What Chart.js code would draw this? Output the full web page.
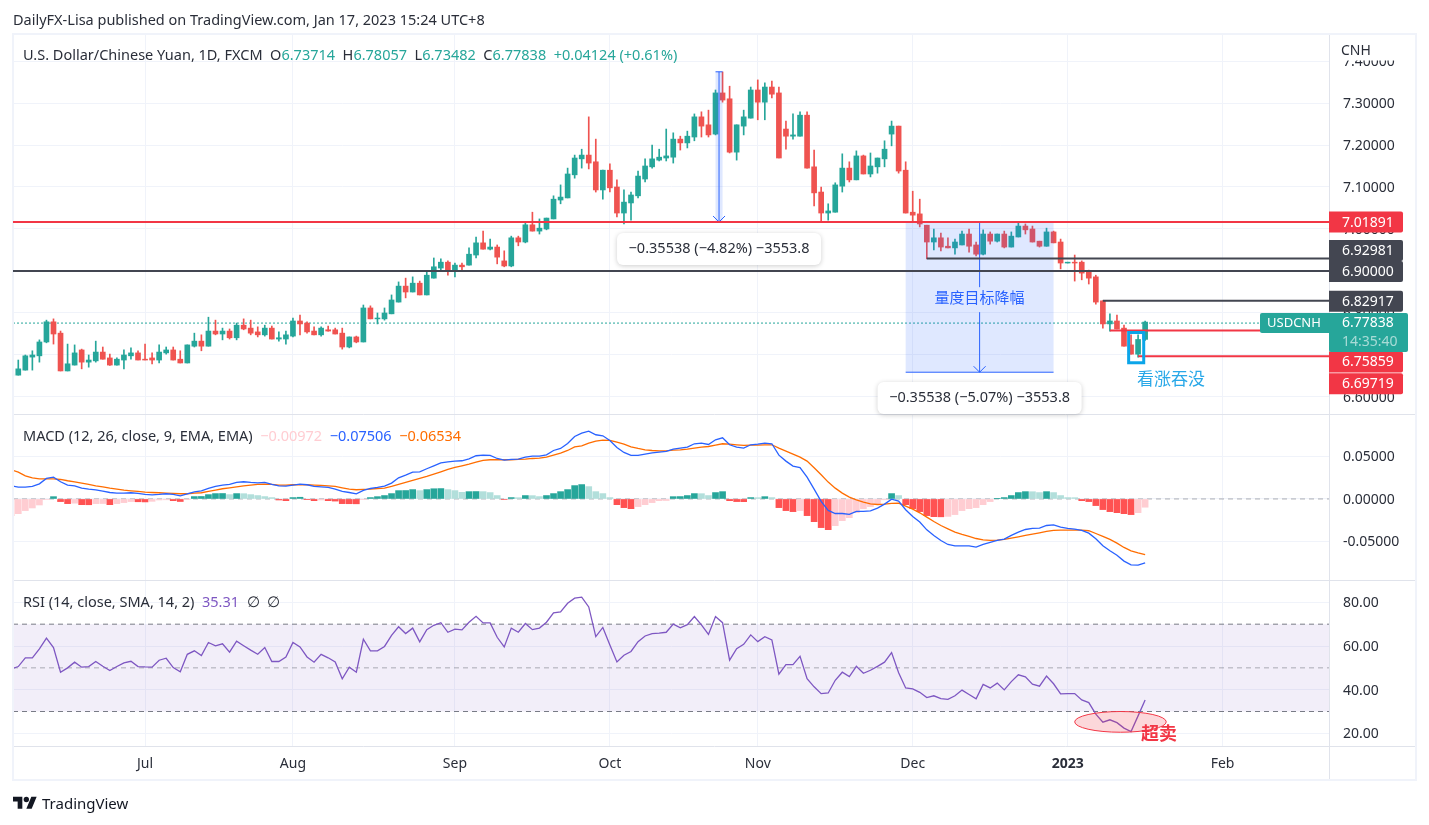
<!DOCTYPE html>
<html lang="en">
<head>
<meta charset="UTF-8">
<title>USDCNH</title>
<script src="https://cdn.jsdelivr.net/npm/chart.js"></script>
<style>
    html, body { margin: 0; padding: 0; background: #fff; overflow: hidden; }
    body { width: 1429px; height: 825px; position: relative; font-family: "Noto Sans", sans-serif; font-size: 14.5px; color: #2a2e39; }
    canvas { position: absolute; left: 0; top: 0; }
    .txt { position: absolute; white-space: pre; line-height: 20px; }
    .teal { color: #26a69a; }
</style>
</head>
<body>
<canvas id="chart" width="1429" height="825"></canvas>
<div class="txt" style="left:13px;top:9px">DailyFX-Lisa published on TradingView.com, Jan 17, 2023 15:24 UTC+8</div>
<div class="txt" style="left:23px;top:44px">U.S. Dollar/Chinese Yuan, 1D, FXCM  O<span class="teal">6.73714</span>  H<span class="teal">6.78057</span>  L<span class="teal">6.73482</span>  C<span class="teal">6.77838</span>  <span class="teal">+0.04124 (+0.61%)</span></div>
<div class="txt" style="left:23px;top:425px">MACD (12, 26, close, 9, EMA, EMA)  <span style="color:#ffcdd2">−0.00972</span>  <span style="color:#2962ff">−0.07506</span>  <span style="color:#ff6d00">−0.06534</span></div>
<div class="txt" style="left:23px;top:591px">RSI (14, close, SMA, 14, 2)  <span style="color:#7e57c2">35.31</span>  ∅  ∅</div>
<svg style="position:absolute;left:13px;top:794px" width="24" height="19" viewBox="0 0 36 28"><path fill="#131722" d="M14 22H7V11H0V4h14v18zM28 22h-8l7.5-18h8L28 22z"/><circle fill="#131722" cx="20" cy="8" r="4"/></svg>
<div class="txt" style="left:42px;top:793px;font-size:15px;color:#131722">TradingView</div>

<script>
// daily candles, index 0 = 6 Jun 2022 (cut by the left edge), index 161 = 17 Jan 2023
const opens = [6.650,
    6.652,6.664,6.695,6.698,6.731,6.779,6.752,6.662,6.676,6.712,
    6.683,6.686,6.707,6.693,6.676,6.688,6.698,6.705,6.690,6.693,
    6.688,6.705,6.712,6.690,6.681,6.721,6.733,6.721,6.757,6.750,
    6.757,6.741,6.771,6.764,6.755,6.748,6.764,6.738,6.738,6.745,
    6.781,6.776,6.757,6.748,6.760,6.760,6.752,6.719,6.743,6.731,
    6.812,6.786,6.786,6.798,6.826,6.864,6.850,6.871,6.843,6.883,
    6.907,6.921,6.900,6.914,6.914,6.938,6.967,6.952,6.957,6.924,
    6.912,6.979,6.969,7.010,6.995,7.000,7.024,7.069,7.074,7.129,
    7.167,7.176,7.160,7.093,7.140,7.100,7.038,7.062,7.079,7.119,
    7.148,7.164,7.169,7.171,7.214,7.205,7.219,7.267,7.248,7.226,
    7.324,7.310,7.183,7.245,7.264,7.331,7.302,7.338,7.324,7.238,
    7.221,7.221,7.271,7.148,7.088,7.038,7.040,7.102,7.145,7.117,
    7.174,7.131,7.148,7.167,7.226,7.245,7.140,7.040,7.036,7.009,
    6.969,6.979,6.959,6.955,6.962,6.988,6.962,6.940,6.988,6.971,
    6.988,6.957,6.981,7.007,7.000,6.971,6.959,6.993,6.969,6.919,
    6.921,6.921,6.898,6.886,6.829,6.774,6.781,6.764,6.724,6.702,6.73714
];
const highs = [6.657,
    6.688,6.700,6.710,6.736,6.783,6.786,6.757,6.726,6.724,6.714,
    6.700,6.733,6.719,6.702,6.693,6.712,6.717,6.710,6.726,6.705,
    6.724,6.719,6.719,6.710,6.724,6.752,6.748,6.790,6.783,6.764,
    6.762,6.776,6.786,6.783,6.767,6.771,6.769,6.755,6.757,6.788,
    6.795,6.779,6.767,6.767,6.769,6.764,6.764,6.743,6.745,6.819,
    6.817,6.800,6.812,6.843,6.874,6.883,6.886,6.876,6.900,6.931,
    6.929,6.924,6.919,6.919,6.955,6.981,6.995,6.976,6.962,6.948,
    6.983,6.983,7.014,7.040,7.024,7.026,7.079,7.105,7.145,7.176,
    7.190,7.267,7.214,7.140,7.155,7.117,7.093,7.088,7.138,7.167,
    7.200,7.190,7.238,7.229,7.221,7.233,7.274,7.279,7.283,7.331,
    7.374,7.340,7.248,7.283,7.338,7.355,7.348,7.352,7.338,7.257,
    7.274,7.279,7.279,7.188,7.100,7.060,7.110,7.179,7.160,7.186,
    7.176,7.181,7.169,7.210,7.257,7.245,7.160,7.090,7.071,7.009,
    7.000,6.990,6.979,6.976,6.995,7.000,6.969,6.998,6.993,6.988,
    6.995,6.993,7.014,7.012,7.007,6.971,7.002,6.995,6.976,6.921,
    6.938,6.924,6.902,6.890,6.829,6.798,6.795,6.771,6.748,6.748,6.78057
];
const lows = [6.645,
    6.652,6.664,6.664,6.683,6.729,6.726,6.662,6.662,6.676,6.667,
    6.671,6.683,6.690,6.675,6.676,6.667,6.690,6.688,6.688,6.679,
    6.681,6.702,6.688,6.681,6.681,6.719,6.710,6.721,6.748,6.736,
    6.738,6.736,6.760,6.748,6.743,6.745,6.738,6.733,6.726,6.743,
    6.748,6.752,6.748,6.745,6.757,6.750,6.714,6.717,6.729,6.731,
    6.786,6.774,6.783,6.798,6.826,6.836,6.850,6.843,6.843,6.883,
    6.902,6.890,6.886,6.900,6.914,6.931,6.952,6.950,6.917,6.910,
    6.910,6.960,6.967,6.995,6.988,6.998,7.024,7.060,7.074,7.121,
    7.145,7.143,7.088,7.071,7.088,7.029,7.012,7.021,7.074,7.112,
    7.145,7.162,7.162,7.157,7.188,7.193,7.210,7.219,7.219,7.224,
    7.302,7.181,7.164,7.224,7.264,7.260,7.260,7.312,7.169,7.190,
    7.214,7.221,7.145,7.055,7.017,7.021,7.040,7.088,7.112,7.117,
    7.131,7.124,7.133,7.148,7.198,7.133,7.038,7.017,7.005,6.929,
    6.950,6.948,6.955,6.940,6.962,6.945,6.936,6.938,6.964,6.969,
    6.955,6.957,6.981,6.988,6.969,6.957,6.959,6.967,6.905,6.919,
    6.876,6.879,6.869,6.821,6.764,6.757,6.762,6.721,6.702,6.695,6.73482
];
const closes = [6.655,
    6.667,6.698,6.700,6.731,6.779,6.750,6.662,6.679,6.705,6.683,
    6.688,6.707,6.690,6.676,6.690,6.700,6.705,6.688,6.688,6.688,
    6.707,6.712,6.688,6.681,6.724,6.733,6.721,6.757,6.750,6.757,
    6.741,6.771,6.762,6.752,6.748,6.764,6.738,6.741,6.748,6.781,
    6.774,6.755,6.748,6.764,6.757,6.750,6.719,6.743,6.731,6.812,
    6.786,6.788,6.800,6.831,6.864,6.850,6.871,6.843,6.890,6.910,
    6.921,6.900,6.914,6.910,6.940,6.967,6.952,6.957,6.933,6.912,
    6.979,6.969,7.010,6.995,7.002,7.026,7.071,7.076,7.131,7.169,
    7.176,7.157,7.093,7.140,7.098,7.038,7.064,7.081,7.126,7.150,
    7.167,7.171,7.174,7.214,7.205,7.221,7.267,7.245,7.224,7.324,
    7.307,7.183,7.248,7.267,7.331,7.302,7.338,7.321,7.169,7.221,
    7.224,7.271,7.145,7.086,7.038,7.043,7.105,7.145,7.117,7.174,
    7.131,7.150,7.169,7.190,7.245,7.138,7.038,7.033,7.012,6.969,
    6.979,6.957,6.955,6.969,6.988,6.959,6.940,6.988,6.971,6.988,
    6.957,6.983,7.007,6.998,6.969,6.959,6.993,6.967,6.919,6.921,
    6.919,6.895,6.883,6.826,6.774,6.781,6.762,6.721,6.702,6.737,6.77838
];

const macdHist = [-.0198,
    -.0173,-.0137,-.0106,-.0071,-.0005,.0027,-.0031,-.0055,-.0050,-.0067,
    -.0068,-.0055,-.0054,-.0067,-.0055,-.0043,-.0031,-.0033,-.0035,-.0028,
    -.0012,-.0010,-.0020,-.0030,-.0004,.0028,.0029,.0051,.0063,.0064,
    .0051,.0063,.0062,.0051,.0040,.0028,.0016,-.0012,-.0020,.0016,
    .0020,-.0008,-.0020,-.0012,-.0020,-.0025,-.0055,-.0056,-.0057,-.0008,
    .0016,.0027,.0040,.0063,.0098,.0099,.0110,.0098,.0110,.0120,
    .0122,.0110,.0098,.0078,.0086,.0087,.0086,.0075,.0040,-.0005,
    .0016,.0015,.0040,.0039,.0028,.0040,.0063,.0086,.0110,.0157,
    .0169,.0145,.0086,.0063,.0016,-.0067,-.0102,-.0114,-.0090,-.0067,
    -.0043,-.0020,-.0018,.0027,.0028,.0040,.0063,.0062,.0040,.0075,
    .0086,-.0020,-.0031,-.0032,.0016,.0015,.0027,.0016,-.0102,-.0137,
    -.0149,-.0137,-.0196,-.0267,-.0337,-.0361,-.0314,-.0255,-.0220,-.0161,
    -.0114,-.0090,-.0067,-.0010,.0063,.0040,-.0067,-.0114,-.0149,-.0196,
    -.0208,-.0210,-.0205,-.0184,-.0137,-.0114,-.0102,-.0067,-.0031,.0004,
    .0016,.0040,.0075,.0086,.0085,.0075,.0086,.0075,.0040,.0016,
    .0015,-.0020,-.0031,-.0078,-.0125,-.0149,-.0161,-.0173,-.0184,-.0161,-.00972
];
const macdLine = [.0155,
    .0139,.0139,.0147,.0178,.0241,.0257,.0202,.0163,.0155,.0127,
    .0116,.0108,.0092,.0076,.0069,.0069,.0073,.0065,.0053,.0049,
    .0053,.0061,.0053,.0037,.0061,.0084,.0096,.0123,.0147,.0163,
    .0171,.0194,.0202,.0194,.0190,.0194,.0171,.0155,.0151,.0163,
    .0174,.0167,.0147,.0143,.0135,.0116,.0088,.0076,.0061,.0100,
    .0123,.0135,.0151,.0186,.0249,.0280,.0316,.0319,.0355,.0390,
    .0425,.0437,.0445,.0449,.0472,.0508,.0515,.0512,.0476,.0457,
    .0465,.0468,.0492,.0504,.0504,.0519,.0570,.0594,.0653,.0735,
    .0774,.0798,.0755,.0743,.0688,.0606,.0547,.0512,.0512,.0527,
    .0543,.0551,.0559,.0586,.0598,.0610,.0649,.0657,.0641,.0696,
    .0719,.0637,.0610,.0598,.0637,.0645,.0657,.0649,.0515,.0445,
    .0386,.0370,.0257,.0116,-.0029,-.0135,-.0171,-.0171,-.0182,-.0147,
    -.0147,-.0139,-.0108,-.0061,-.0002,-.0025,-.0127,-.0206,-.0272,-.0363,
    -.0429,-.0488,-.0535,-.0551,-.0551,-.0551,-.0566,-.0535,-.0512,-.0488,
    -.0472,-.0429,-.0390,-.0359,-.0347,-.0343,-.0312,-.0304,-.0331,-.0347,
    -.0355,-.0370,-.0402,-.0468,-.0551,-.0610,-.0661,-.0731,-.0774,-.0778,-.07506
];
const signalLine = [.0343,
    .0316,.0272,.0249,.0237,.0237,.0237,.0229,.0214,.0202,.0186,
    .0171,.0155,.0143,.0127,.0116,.0104,.0096,.0088,.0080,.0076,
    .0073,.0069,.0065,.0061,.0061,.0069,.0073,.0088,.0104,.0120,
    .0131,.0143,.0155,.0163,.0171,.0174,.0171,.0163,.0163,.0167,
    .0167,.0167,.0163,.0159,.0155,.0147,.0131,.0116,.0108,.0112,
    .0116,.0123,.0127,.0147,.0171,.0194,.0218,.0241,.0265,.0292,
    .0319,.0347,.0370,.0390,.0410,.0433,.0453,.0461,.0461,.0461,
    .0461,.0465,.0468,.0476,.0480,.0492,.0515,.0539,.0570,.0613,
    .0625,.0657,.0680,.0692,.0688,.0668,.0645,.0613,.0594,.0578,
    .0570,.0566,.0566,.0574,.0578,.0586,.0598,.0610,.0617,.0633,
    .0649,.0645,.0637,.0629,.0633,.0633,.0637,.0637,.0598,.0563,
    .0527,.0492,.0445,.0367,.0284,.0198,.0127,.0069,.0022,-.0010,
    -.0037,-.0057,-.0065,-.0061,-.0053,-.0049,-.0084,-.0120,-.0163,-.0214,
    -.0265,-.0312,-.0351,-.0390,-.0417,-.0441,-.0465,-.0480,-.0488,-.0484,
    -.0476,-.0461,-.0445,-.0429,-.0414,-.0398,-.0382,-.0370,-.0367,-.0367,
    -.0367,-.0367,-.0374,-.0406,-.0441,-.0476,-.0519,-.0570,-.0610,-.0633,-.06534
];
const rsiLine = [49.5,
    50.6,54.6,54.6,58.7,63.6,59.3,48.0,50.0,52.6,50.3,
    50.6,52.9,50.7,48.8,50.6,52.3,53.0,50.6,50.4,50.3,
    53.5,54.4,50.1,48.2,56.2,57.8,55.6,61.6,60.1,61.0,
    57.2,62.2,60.1,58.1,56.2,59.3,52.9,52.9,54.9,61.6,
    59.6,55.0,52.6,56.2,54.6,52.7,45.0,50.3,48.0,63.1,
    57.8,57.8,59.8,64.9,68.8,65.7,68.2,61.9,67.5,69.5,
    70.7,66.3,67.7,67.4,70.9,73.6,70.6,70.6,64.0,59.6,
    68.2,66.3,70.3,67.5,68.2,70.9,75.2,75.6,79.6,81.9,
    82.4,77.9,64.3,68.5,60.5,52.7,55.8,57.5,62.0,64.6,
    65.7,65.9,66.3,70.0,68.3,69.8,73.5,69.7,65.3,73.5,
    70.7,53.5,58.8,60.8,65.1,62.0,64.3,62.8,47.1,51.5,
    51.5,55.3,45.0,41.3,38.2,38.5,44.3,48.0,46.0,50.7,
    47.5,48.9,50.7,52.6,57.0,47.8,40.8,40.4,38.8,36.4,
    37.2,35.9,35.6,37.2,39.8,37.8,35.8,42.4,40.8,43.0,
    39.9,43.7,46.8,45.9,42.5,41.6,46.2,42.7,38.1,38.2,
    38.2,35.3,34.1,28.8,25.1,26.2,24.9,22.4,20.8,28.0,35.31
];

// month labels on the time axis and the bar index they sit on
const tickIndex = [19, 40, 63, 85, 106, 128, 150, 172];
const tickLabels = ['Jul', 'Aug', 'Sep', 'Oct', 'Nov', 'Dec', '2023', 'Feb'];

// drawn levels: price, first bar index (-1 = whole width), colour
const levelPrices = [7.0167, 6.92981, 6.90000, 6.82917, 6.75859, 6.69719];
const levelStart = [-1, 130, -1, 155, 156, 160];
const levelColors = ['#f23645', '#434651', '#434651', '#434651', '#f23645', '#f23645'];

const RED = '#ef5350', GREEN = '#26a69a', BLUE = '#2962ff';
const xs = closes.map((_, i) => i);
const candleColor = xs.map(i => closes[i] >= opens[i] ? GREEN : RED);
const histColor = xs.map(i => {
    const prev = i ? macdHist[i - 1] : -1;
    if (macdHist[i] >= 0) return macdHist[i] > prev ? GREEN : '#b2dfdb';
    return macdHist[i] < prev ? '#ff5252' : '#ffcdd2';
});

function line(ctx, x1, y1, x2, y2, color, width, dash) {
    ctx.save();
    ctx.strokeStyle = color;
    ctx.lineWidth = width;
    ctx.setLineDash(dash || []);
    ctx.beginPath();
    ctx.moveTo(x1, y1);
    ctx.lineTo(x2, y2);
    ctx.stroke();
    ctx.restore();
}

function text(ctx, str, x, y, color, font, align) {
    ctx.fillStyle = color;
    ctx.font = font;
    ctx.textAlign = align || 'left';
    ctx.textBaseline = 'middle';
    ctx.fillText(str, x, y);
}

// white pill under the two measuring tools
function pill(ctx, str, cx, cy) {
    ctx.save();
    ctx.shadowColor = 'rgba(0,0,0,.2)';
    ctx.shadowBlur = 5;
    ctx.shadowOffsetY = 1;
    ctx.fillStyle = '#fff';
    ctx.beginPath();
    ctx.roundRect(cx - 102, cy - 16, 204, 32, 6);
    ctx.fill();
    ctx.restore();
    text(ctx, str, cx, cy, '#2a2e39', '14.5px "Noto Sans"', 'center');
}

function arrowHead(ctx, x, y, color) {
    ctx.save();
    ctx.strokeStyle = color;
    ctx.lineWidth = 1;
    ctx.beginPath();
    ctx.moveTo(x - 6, y - 6);
    ctx.lineTo(x, y);
    ctx.lineTo(x + 6, y - 6);
    ctx.stroke();
    ctx.restore();
}

function tag(ctx, str, cy, color) {
    ctx.fillStyle = color;
    ctx.beginPath();
    ctx.roundRect(1329, cy - 10.5, 74, 21, [0, 2, 2, 0]);
    ctx.fill();
    text(ctx, str, 1342, cy + 0.5, '#fff', '14px "Noto Sans"');
}

const underlay = {
    id: 'underlay',
    beforeDatasetsDraw(chart) {
        const ctx = chart.ctx, s = chart.scales, L = 13, R = 1330;
        const y70 = s.yRsi.getPixelForValue(70), y30 = s.yRsi.getPixelForValue(30);
        ctx.fillStyle = 'rgba(126,87,194,.1)';
        ctx.fillRect(L, y70, R - L, y30 - y70);
        line(ctx, L, y70, R, y70, '#787b86', 1, [5, 4]);
        line(ctx, L, y30, R, y30, '#787b86', 1, [5, 4]);
        const y50 = s.yRsi.getPixelForValue(50);
        line(ctx, L, y50, R, y50, 'rgba(120,123,134,.6)', 1, [5, 4]);
        const y0 = s.yMacd.getPixelForValue(0);
        line(ctx, L, y0, R, y0, 'rgba(120,123,134,.6)', 1, [5, 4]);
        const yLast = s.yPrice.getPixelForValue(closes[closes.length - 1]) + 1;
        line(ctx, L, yLast, 1260, yLast, GREEN, 1, [2, 2]);
    }
};

const overlay = {
    id: 'overlay',
    afterDraw(chart) {
        const ctx = chart.ctx, s = chart.scales;
        const X = v => s.x.getPixelForValue(v), P = v => s.yPrice.getPixelForValue(v), Q = v => s.yRsi.getPixelForValue(v);
        const L = 13, R = 1330;

        // pane separators and frame
        [414.5, 580.5, 746.5].forEach(y => line(ctx, L, y, 1416, y, '#e0e3eb', 1));
        line(ctx, 1329.5, 34, 1329.5, 780, '#e0e3eb', 1);
        ctx.strokeStyle = '#f0f3fa';
        ctx.lineWidth = 2;
        ctx.strokeRect(13, 34, 1403, 746);

        // measuring tool on the left
        const topL = 7.37429, botL = levelPrices[0];
        ctx.fillStyle = 'rgba(41,98,255,.15)';
        ctx.fillRect(X(100), P(topL), X(101) - X(100), P(botL) - P(topL));
        line(ctx, X(100), P(topL), X(101), P(topL), BLUE, 1);
        line(ctx, X(100.5), P(topL), X(100.5), P(botL), BLUE, 1);
        arrowHead(ctx, X(100.5), P(botL), BLUE);

        // measuring tool on the right
        const botR = 6.659;
        ctx.fillStyle = 'rgba(41,98,255,.15)';
        ctx.fillRect(X(127), P(botL), X(148) - X(127), P(botR) - P(botL));
        line(ctx, X(127), P(botL), X(148), P(botL), BLUE, 1);
        line(ctx, X(127), P(botR), X(148), P(botR), BLUE, 1);
        line(ctx, X(137.5), P(botL), X(137.5), P(6.8615), BLUE, 1);
        line(ctx, X(137.5), P(6.8020), X(137.5), P(botR), BLUE, 1);
        arrowHead(ctx, X(137.5), P(botR), BLUE);
        text(ctx, '量度目标降幅', X(137.5), 297, BLUE, '15px "Noto Sans CJK SC"', 'center');

        // price levels
        levelPrices.forEach((p, i) => {
            const from = levelStart[i] < 0 ? L : X(levelStart[i]);
            line(ctx, from, P(p), R, P(p), levelColors[i], 2);
        });

        pill(ctx, '−0.35538 (−4.82%) −3553.8', X(100.5), 249);
        pill(ctx, '−0.35538 (−5.07%) −3553.8', X(137.5), 398);

        // engulfing box
        ctx.strokeStyle = '#0ba5e9';
        ctx.lineWidth = 3;
        ctx.strokeRect(X(158.66), P(6.7535), X(160.8) - X(158.66), P(6.6815) - P(6.7535));
        text(ctx, '看涨吞没', 1137, 379, '#29a8e8', '17px "Noto Sans CJK SC"');

        // oversold ellipse
        ctx.save();
        ctx.fillStyle = 'rgba(242,54,69,.2)';
        ctx.strokeStyle = '#f23645';
        ctx.lineWidth = 1;
        ctx.beginPath();
        const cx = (X(151) + X(164)) / 2, cy = (Q(30) + Q(20.5)) / 2;
        ctx.ellipse(cx, cy, (X(164) - X(151)) / 2, (Q(20.5) - Q(30)) / 2, 0, 0, Math.PI * 2);
        ctx.fill();
        ctx.stroke();
        ctx.restore();
        text(ctx, '超卖', 1141, 733, '#f23645', 'bold 18px "Noto Sans CJK SC"');

        // cover the axis top for the currency label
        ctx.fillStyle = '#fff';
        ctx.fillRect(1331, 35, 84, 25.5);
        text(ctx, 'CNH', 1341, 51, '#2a2e39', '14px "Noto Sans"');

        // price tags on the axis, shifted so they do not overlap
        tag(ctx, '7.01891', P(7.01891) + 1, '#f23645');
        tag(ctx, '6.92981', P(6.92981) - 8, '#434651');
        tag(ctx, '6.90000', P(6.90) + 0.5, '#434651');
        tag(ctx, '6.82917', P(6.82917) + 0.5, '#434651');
        tag(ctx, '6.75859', P(6.75859) + 31.5, '#f23645');
        tag(ctx, '6.69719', P(6.69719) + 27.5, '#f23645');

        // last price with countdown
        ctx.fillStyle = GREEN;
        ctx.beginPath();
        ctx.roundRect(1260, 313, 148, 20, [2, 2, 0, 2]);
        ctx.fill();
        ctx.beginPath();
        ctx.roundRect(1329, 320, 79, 32, [0, 0, 2, 2]);
        ctx.fill();
        text(ctx, 'USDCNH', 1267, 323.5, '#fff', '13px "Noto Sans"');
        text(ctx, '6.77838', 1342, 323.5, '#fff', '14px "Noto Sans"');
        text(ctx, '14:35:40', 1342, 342, 'rgba(255,255,255,.6)', '14px "Noto Sans"');
    }
};

const gridColor = '#f0f3fa';
const tickFont = { family: '"Noto Sans"', size: 14 };

function yAxis(weight, min, max, step, digits, nudge) {
    return {
        type: 'linear',
        position: 'right',
        stack: 'panes',
        stackWeight: weight,
        min: min,
        max: max,
        afterFit: scale => { scale.width = 86; },
        border: { display: false },
        grid: { color: gridColor, drawTicks: false },
        ticks: {
            stepSize: step,
            includeBounds: false,
            color: '#2a2e39',
            font: tickFont,
            padding: 13,
            labelOffset: nudge,
            callback: v => v.toFixed(digits)
        }
    };
}

new Chart(document.getElementById('chart').getContext('2d'), {
    type: 'bar',
    data: {
        datasets: [
            { yAxisID: 'yPrice', order: 2, barThickness: 1, grouped: false, backgroundColor: candleColor,
              data: xs.map(i => ({ x: i, y: [lows[i], highs[i]] })) },
            { yAxisID: 'yPrice', order: 1, barThickness: 5, grouped: false, backgroundColor: candleColor,
              data: xs.map(i => ({ x: i, y: [Math.min(opens[i], closes[i]), Math.max(opens[i], closes[i])] })) },
            { yAxisID: 'yMacd', order: 3, barThickness: 6, grouped: false, backgroundColor: histColor,
              data: xs.map(i => ({ x: i, y: macdHist[i] })) },
            { type: 'line', yAxisID: 'yMacd', order: 0, borderColor: BLUE, borderWidth: 1.3, pointRadius: 0, tension: 0,
              data: xs.map(i => ({ x: i, y: macdLine[i] })) },
            { type: 'line', yAxisID: 'yMacd', order: 0, borderColor: '#ff6d00', borderWidth: 1.3, pointRadius: 0, tension: 0,
              data: xs.map(i => ({ x: i, y: signalLine[i] })) },
            { type: 'line', yAxisID: 'yRsi', order: 0, borderColor: '#7e57c2', borderWidth: 1.3, pointRadius: 0, tension: 0,
              data: xs.map(i => ({ x: i, y: rsiLine[i] })) }
        ]
    },
    options: {
        responsive: false,
        animation: false,
        layout: { padding: { left: 13, right: 13, top: 34, bottom: 45 } },
        plugins: { legend: { display: false }, tooltip: { enabled: false } },
        scales: {
            x: {
                type: 'linear',
                offset: false,
                min: 0.25,
                max: 187.25,
                afterBuildTicks: scale => { scale.ticks = tickIndex.map(v => ({ value: v })); },
                afterFit: scale => { scale.height = 34; },
                border: { display: false },
                grid: { color: gridColor, drawTicks: false, offset: false },
                ticks: {
                    autoSkip: false,
                    maxRotation: 0,
                    padding: 10,
                    color: '#2a2e39',
                    font: ctx => ctx.tick && tickLabels[tickIndex.indexOf(ctx.tick.value)] === '2023' ? { family: '"Noto Sans"', size: 14, weight: 'bold' } : tickFont,
                    callback: v => tickLabels[tickIndex.indexOf(v)]
                }
            },
            yPrice: yAxis(380, 6.5595, 7.4643, 0.1, 5, 1),
            yMacd: yAxis(166, -0.0953, 0.0999, 0.05, 5, 1),
            yRsi: yAxis(166, 14.2, 90.24, 20, 2, 1)
        }
    },
    plugins: [underlay, overlay]
});
</script>
</body>
</html>
